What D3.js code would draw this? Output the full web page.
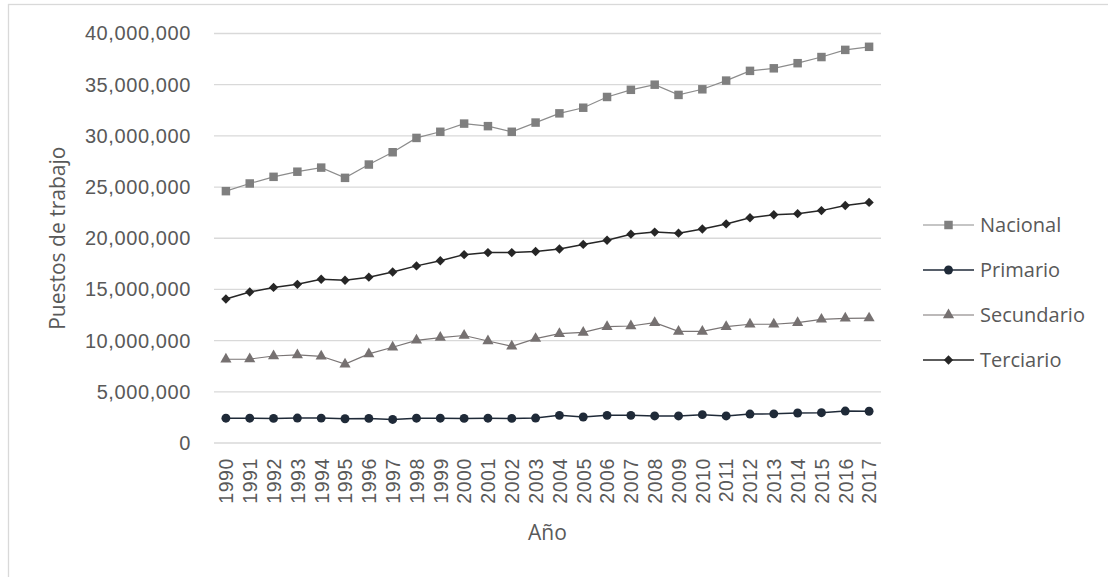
<!DOCTYPE html>
<html>
<head>
<meta charset="utf-8">
<script src="https://cdn.jsdelivr.net/npm/d3@7"></script>
<style>
  html, body { margin: 0; padding: 0; background: #fff; }
  svg { display: block; font-family: "Open Sans", "Noto Sans", sans-serif; }
</style>
</head>
<body>
<svg id="chart" width="1108" height="577"></svg>
<script>
// Puestos de trabajo por sector, 1990-2017
const years = d3.range(1990, 2018).map(String);

const nacional = [
  24.6, 25.35, 26.0, 26.5, 26.9, 25.9, 27.2, 28.4, 29.8, 30.4,
  31.2, 30.95, 30.4, 31.3, 32.2, 32.75, 33.8, 34.5, 35.0, 34.0,
  34.55, 35.4, 36.35, 36.6, 37.1, 37.7, 38.4, 38.7
].map(v => v * 1e6);

const primario = [
  2.42, 2.42, 2.40, 2.44, 2.43, 2.37, 2.40, 2.30, 2.42, 2.42,
  2.40, 2.42, 2.40, 2.44, 2.70, 2.54, 2.70, 2.70, 2.64, 2.64,
  2.77, 2.64, 2.83, 2.85, 2.93, 2.96, 3.12, 3.10
].map(v => v * 1e6);

const secundario = [
  8.18, 8.2, 8.5, 8.6, 8.47, 7.7, 8.7, 9.35, 10.03, 10.3,
  10.5, 9.96, 9.45, 10.2, 10.68, 10.8, 11.36, 11.43, 11.75, 10.9,
  10.9, 11.36, 11.6, 11.6, 11.75, 12.08, 12.18, 12.2
].map(v => v * 1e6);

const terciario = [
  14.07, 14.75, 15.2, 15.5, 16.0, 15.9, 16.2, 16.7, 17.3, 17.8,
  18.4, 18.6, 18.6, 18.7, 18.95, 19.4, 19.8, 20.4, 20.6, 20.5,
  20.9, 21.4, 22.0, 22.3, 22.4, 22.7, 23.2, 23.5
].map(v => v * 1e6);

const yTicks = [0, 5e6, 10e6, 15e6, 20e6, 25e6, 30e6, 35e6, 40e6];

const seriesNames = ["Nacional", "Primario", "Secundario", "Terciario"];
const seriesValues = [nacional, primario, secundario, terciario];

const styles = {
  Nacional:   { line: "#8c8c8c", lw: 1.2, fill: "#7f7f7f", symbol: d3.symbolSquare,   size: 72, rot: 0 },
  Primario:   { line: "#1f2a38", lw: 1.5, fill: "#1f2a38", symbol: d3.symbolCircle,   size: 62, rot: 0 },
  Secundario: { line: "#7a7575", lw: 1.2, fill: "#767171", symbol: d3.symbolTriangle, size: 54, rot: 0 },
  Terciario:  { line: "#262626", lw: 1.5, fill: "#262626", symbol: d3.symbolSquare,   size: 44, rot: 45 }
};

const svg = d3.select("#chart");
const textColor = "#595959";
const gridColor = "#d9d9d9";

// outer chart frame
svg.append("rect")
  .attr("x", 8.5).attr("y", 4.5)
  .attr("width", 1108).attr("height", 600)
  .attr("fill", "none").attr("stroke", gridColor).attr("stroke-width", 1.3);

const plot = { left: 214, right: 881, top: 33.5, bottom: 443 };

const x = d3.scalePoint().domain(years).range([plot.left, plot.right]).padding(0.5);
const y = d3.scaleLinear().domain([0, 40e6]).range([plot.bottom, plot.top]);

// horizontal gridlines
svg.append("g")
  .selectAll("line")
  .data(yTicks)
  .join("line")
  .attr("x1", plot.left).attr("x2", plot.right)
  .attr("y1", d => y(d)).attr("y2", d => y(d))
  .attr("stroke", gridColor).attr("stroke-width", 1.3);

// y axis labels
const fmt = d3.format(",");
const yAxis = d3.axisLeft(y).tickValues(yTicks).tickFormat(fmt).tickSize(0).tickPadding(23);
const gy = svg.append("g").attr("transform", `translate(${plot.left},0)`).call(yAxis);
gy.select(".domain").remove();
gy.selectAll("text")
  .attr("fill", textColor)
  .style("font-size", "20px")
  .style("letter-spacing", "0.6px");

// x axis labels (rotated)
const xAxis = d3.axisBottom(x).tickSize(0).tickPadding(0);
const gx = svg.append("g").attr("transform", `translate(0,${plot.bottom})`).call(xAxis);
gx.select(".domain").remove();
gx.selectAll("text")
  .attr("fill", textColor)
  .style("font-size", "19.5px")
  .style("letter-spacing", "0.6px")
  .attr("transform", "rotate(-90)")
  .attr("text-anchor", "end")
  .attr("x", -15)
  .attr("y", 0)
  .attr("dy", "0.35em");

// axis titles
svg.append("text")
  .attr("x", (plot.left + plot.right) / 2).attr("y", 540)
  .attr("text-anchor", "middle")
  .attr("fill", textColor)
  .style("font-size", "21px")
  .text("Año");

svg.append("text")
  .attr("transform", `translate(65,${(plot.top + plot.bottom) / 2}) rotate(-90)`)
  .attr("text-anchor", "middle")
  .attr("fill", textColor)
  .style("font-size", "21px")
  .text("Puestos de trabajo");

// series lines and markers
const line = d3.line().x((d, i) => x(years[i])).y(d => y(d));

seriesNames.forEach((name, k) => {
  const s = styles[name];
  const vals = seriesValues[k];
  const g = svg.append("g").attr("class", "series");
  g.append("path")
    .datum(vals)
    .attr("d", line)
    .attr("fill", "none")
    .attr("stroke", s.line)
    .attr("stroke-width", s.lw);
  g.selectAll("path.marker")
    .data(vals)
    .join("path")
    .attr("class", "marker")
    .attr("d", d3.symbol().type(s.symbol).size(s.size))
    .attr("transform", (d, i) => `translate(${x(years[i])},${y(d)}) rotate(${s.rot})`)
    .attr("fill", s.fill);
});

// legend
const legend = svg.append("g").attr("transform", "translate(923,225)");
seriesNames.forEach((name, k) => {
  const s = styles[name];
  const row = legend.append("g").attr("transform", `translate(0,${k * 45})`);
  row.append("line")
    .attr("x1", 0).attr("x2", 51).attr("y1", 0).attr("y2", 0)
    .attr("stroke", s.line).attr("stroke-width", s.lw);
  row.append("path")
    .attr("d", d3.symbol().type(s.symbol).size(s.size))
    .attr("transform", `translate(25.5,0) rotate(${s.rot})`)
    .attr("fill", s.fill);
  row.append("text")
    .attr("x", 57).attr("y", 0).attr("dy", "0.35em")
    .attr("fill", textColor)
    .style("font-size", "20px")
    .text(name);
});
</script>
</body>
</html>
